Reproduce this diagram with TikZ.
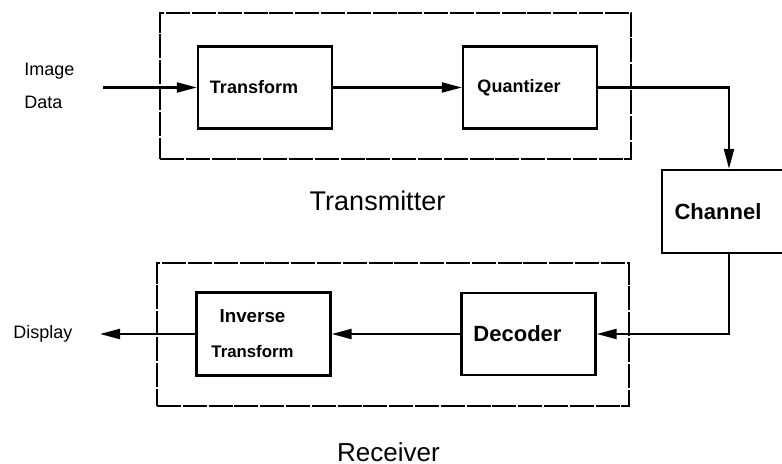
\documentclass[tikz,border=0pt]{standalone}
\usepackage{fontspec}
\setmainfont{Liberation Sans}
\usepackage{tikz}
\usetikzlibrary{positioning,arrows.meta}

\begin{document}
\begin{tikzpicture}[x=0.5pt,y=-0.5pt,
  block/.style={draw,line width=1.2pt,minimum width=67pt,minimum height=41pt,
    inner sep=0pt,font=\bfseries\fontsize{9}{11}\selectfont,
    execute at end node={\hspace*{11pt}}},
  frame/.style={draw,line width=1.1pt,dash pattern=on 12pt off 0.9pt,inner sep=0pt},
  flow/.style={-{Triangle[length=10pt,width=5pt]},line width=1.1pt},
  lbl/.style={font=\fontsize{9}{11}\selectfont,inner sep=0pt}
]
\clip (0,0) rectangle (782,464);

\node[frame,minimum width=235.5pt,minimum height=73pt] (txbox) at (395.5,86) {};
\node[frame,minimum width=236pt,minimum height=71.5pt] (rxbox) at (393,334.5) {};

\node[block] (trans) at (265,87.5) {Transform};
\node[block] (quant) at (530,87.5) {Quantizer};
\node[block,minimum height=41.5pt,font=\bfseries\fontsize{11}{13}\selectfont] (chan) at (729,211.5) {Channel};
\node[block,font=\bfseries\fontsize{11}{13}\selectfont] (decod) at (528.5,334) {Decoder};
\node[block,minimum height=41.5pt,align=center] (invtr) at (263.5,334)
  {\fontsize{9.4}{11}\selectfont Inverse\\[6.5pt]\fontsize{8.4}{10}\selectfont Transform};

\node[lbl,anchor=west,align=left] (imgdata) at (24,86) {Image\\[5.5pt]Data};
\node[lbl,anchor=west] (disp) at (13,334) {Display};
\node[font=\fontsize{13.5}{16}\selectfont] (txlbl) at (377.5,201) {Transmitter};
\node[font=\fontsize{13}{16}\selectfont] (rxlbl) at (388.5,452) {Receiver};

\coordinate (src) at (103,87.5);
\coordinate (dst) at (100,334);

\draw[flow] (src) -- (trans);
\draw[flow] (trans) -- (quant);
\draw[flow] (quant.east) -| (chan.north);
\draw[flow] (chan.south) |- (decod.east);
\draw[flow] (decod) -- (invtr);
\draw[flow] (invtr) -- (dst);
\end{tikzpicture}
\end{document}
